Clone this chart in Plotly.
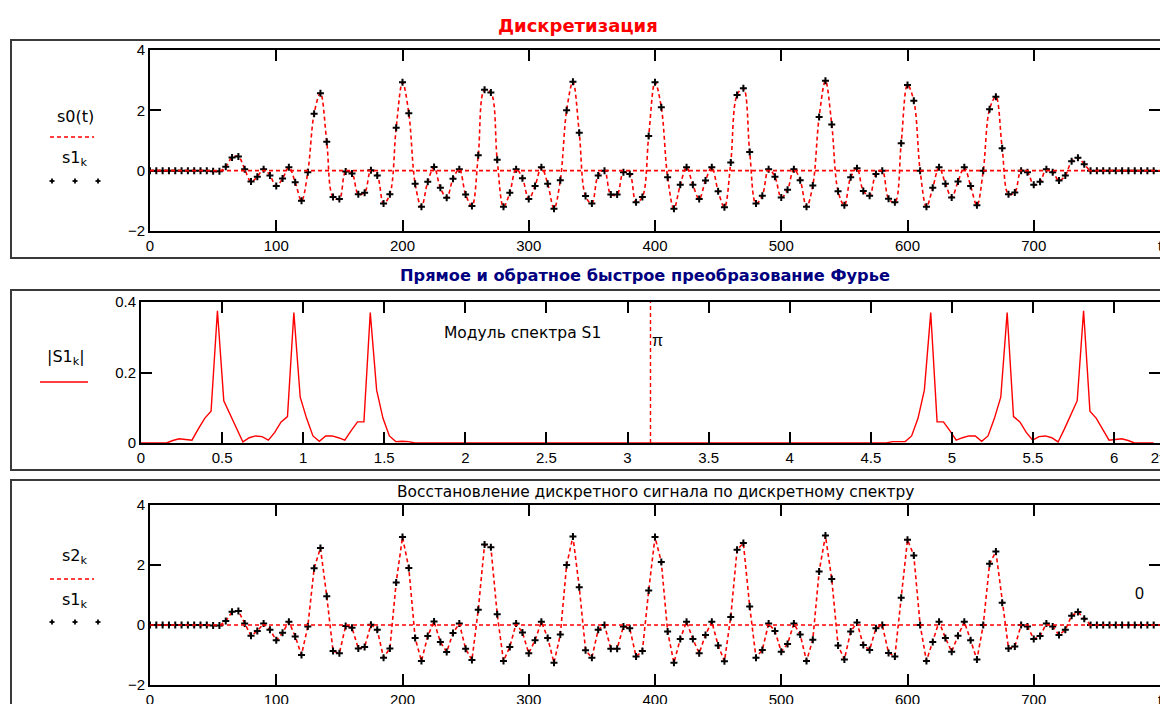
import math
import plotly.graph_objects as go

# ---------------- data ----------------
# discrete samples s1_k (sample step 5 in t, 160 samples)
s1_k = [
    0, 0, 0, 0, 0, 0, 0, 0, 0, 0,
    -0.02, -0.02, 0.13, 0.44, 0.47, 0.05, -0.36, -0.20, 0.05, -0.16,
    -0.51, -0.26, 0.11, -0.38, -1.00, -0.05, 1.89, 2.57, 0.96, -0.87,
    -0.94, -0.03, -0.09, -0.78, -0.73, 0.01, -0.16, -1.09, -0.78, 1.42,
    2.93, 1.90, -0.43, -1.20, -0.37, 0.12, -0.57, -0.90, -0.27, 0.05,
    -0.79, -1.17, 0.51, 2.68, 2.59, 0.36, -1.20, -0.73, 0.05, -0.25,
    -0.94, -0.51, 0.11, -0.43, -1.26, -0.32, 2.00, 2.95, 1.26, -0.84,
    -1.09, -0.16, 0.00, -0.79, -0.79, -0.05, -0.11, -1.05, -0.87, 1.15,
    2.93, 2.10, -0.22, -1.26, -0.47, 0.11, -0.47, -0.94, -0.33, 0.11,
    -0.68, -1.21, 0.27, 2.51, 2.73, 0.62, -1.09, -0.83, 0.05, -0.20,
    -0.89, -0.63, 0.05, -0.32, -1.20, -0.49, 1.78, 2.98, 1.53, -0.68,
    -1.15, -0.22, 0.08, -0.67, -0.83, -0.11, 0.00, -0.93, -1.05, 0.91,
    2.84, 2.32, 0.00, -1.20, -0.57, 0.11, -0.43, -0.89, -0.36, 0.11,
    -0.51, -1.15, 0.00, 2.04, 2.45, 0.74, -0.78, -0.72, 0.00, -0.05,
    -0.47, -0.37, 0.05, -0.05, -0.33, -0.16, 0.31, 0.43, 0.21, 0.00,
    0, 0, 0, 0, 0, 0, 0, 0, 0, 0,
]

# spectrum modulus |S1_k|, k = 0..159
S1_abs = [
    0, 0, 0, 0, 0, 0.007, 0.012, 0.010, 0.008, 0.040,
    0.070, 0.090, 0.375, 0.120, 0.080, 0.040, 0.003, 0.015, 0.020, 0.018,
    0.008, 0.030, 0.060, 0.075, 0.370, 0.130, 0.070, 0.020, 0.005, 0.020,
    0.020, 0.015, 0.008, 0.035, 0.060, 0.060, 0.370, 0.150, 0.070, 0.020,
    0.004, 0.005, 0.004,
    0, 0, 0, 0, 0, 0, 0, 0, 0, 0, 0, 0, 0, 0, 0,
    0, 0, 0, 0, 0, 0, 0, 0, 0, 0, 0, 0, 0, 0, 0,
    0, 0, 0, 0, 0, 0, 0, 0, 0, 0, 0, 0, 0, 0, 0,
    0, 0, 0, 0, 0, 0, 0, 0, 0, 0, 0, 0, 0, 0, 0,
    0, 0, 0, 0, 0, 0, 0, 0, 0, 0, 0, 0, 0, 0, 0,
    0.004, 0.005,
    0.004, 0.020, 0.070, 0.150, 0.370, 0.060, 0.060, 0.035, 0.008, 0.015,
    0.020, 0.020, 0.005, 0.020, 0.070, 0.130, 0.370, 0.075, 0.060, 0.030,
    0.008, 0.018, 0.020, 0.015, 0.003, 0.040, 0.080, 0.120, 0.375, 0.090,
    0.070, 0.040, 0.008, 0.010, 0.012, 0.007, 0, 0, 0, 0,
]

# reconstruction s2_k = inverse FFT of S1 -> same samples
s2_k = list(s1_k)

t_step = 5
t_k = [t_step * k for k in range(len(s1_k))]
N = len(S1_abs)
w_k = [2 * math.pi * k / N for k in range(N)]

t_ticks = [0, 100, 200, 300, 400, 500, 600, 700, 800]
t_ticktext = ["0", "100", "200", "300", "400", "500", "600", "700", "t"]
y_ticks = [-2, 0, 2, 4]
w_ticks = [0, 0.5, 1, 1.5, 2, 2.5, 3, 3.5, 4, 4.5, 5, 5.5, 6, 2 * math.pi]
w_ticktext = ["0", "0.5", "1", "1.5", "2", "2.5", "3", "3.5", "4", "4.5",
              "5", "5.5", "6", "2π"]
s_ticks = [0, 0.2, 0.4]
s_ticktext = ["0", "0.2", "0.4"]

# ---------------- layout helpers ----------------
# the page body has an 8px margin, so the figure is placed at (8, 8)
OFF = 8
W, H = 1168, 704
def px(x):
    return (x - OFF) / W
def py(y):
    return 1 - (y - OFF) / H

FONT = "Liberation Sans, Arial, sans-serif"
WIDE = "DejaVu Sans, Verdana, sans-serif"
RED = "#ff0000"
DASH = "4px,3px"

fig = go.Figure()

marker_style = dict(symbol="cross-thin", size=5, color="black",
                    line=dict(color="black", width=2))

# top panel
fig.add_trace(go.Scatter(x=t_k, y=s1_k, mode="lines", line_shape="spline",
                         line=dict(color=RED, width=1.6, dash=DASH, smoothing=1.0),
                         xaxis="x", yaxis="y", hoverinfo="skip"))
fig.add_trace(go.Scatter(x=t_k, y=s1_k, mode="markers", marker=marker_style,
                         xaxis="x", yaxis="y"))
# middle panel
fig.add_trace(go.Scatter(x=w_k, y=S1_abs, mode="lines",
                         line=dict(color=RED, width=1.4),
                         xaxis="x2", yaxis="y2"))
# bottom panel
fig.add_trace(go.Scatter(x=t_k, y=s2_k, mode="lines",
                         line=dict(color=RED, width=1.6, dash=DASH),
                         xaxis="x3", yaxis="y3"))
fig.add_trace(go.Scatter(x=t_k, y=s1_k, mode="markers", marker=marker_style,
                         xaxis="x3", yaxis="y3"))

axis_common = dict(showgrid=False, zeroline=False, showline=True, linecolor="black",
                   linewidth=2, mirror="ticks", ticks="inside", ticklen=11,
                   tickwidth=2, tickcolor="black", automargin=False,
                   ticklabeloverflow="allow",
                   tickfont=dict(family=FONT, size=15, color="black"))

fig.update_layout(
    width=W, height=H,
    margin=dict(l=0, r=0, t=0, b=0, pad=0, autoexpand=False),
    paper_bgcolor="white", plot_bgcolor="white", showlegend=False,
    xaxis=dict(domain=[px(150), px(1160)], range=[0, 800], anchor="y",
               tickvals=t_ticks, ticktext=t_ticktext, **axis_common),
    yaxis=dict(domain=[py(231), py(50)], range=[-2, 4], anchor="x",
               tickvals=y_ticks, **axis_common),
    xaxis2=dict(domain=[px(141), px(1160)], range=[0, 2 * math.pi], anchor="y2",
                tickvals=w_ticks, ticktext=w_ticktext, **axis_common),
    yaxis2=dict(domain=[py(443), py(302)], range=[0, 0.4], anchor="x2",
                tickvals=s_ticks, ticktext=s_ticktext, **axis_common),
    xaxis3=dict(domain=[px(150), px(1160)], range=[0, 800], anchor="y3",
                tickvals=t_ticks, ticktext=t_ticktext, **axis_common),
    yaxis3=dict(domain=[py(685), py(505)], range=[-2, 4], anchor="x3",
                tickvals=y_ticks, **axis_common),
)

shapes = []
# region frames
for (y0, y1) in [(40, 258), (290, 470), (480, 720)]:
    shapes.append(dict(type="rect", xref="paper", yref="paper",
                       x0=px(11), x1=px(1185), y0=py(y1), y1=py(y0),
                       line=dict(color="#3a3a3a", width=2), layer="below"))
# zero marker lines
shapes.append(dict(type="line", xref="x domain", yref="y", x0=0, x1=1, y0=0, y1=0,
                   line=dict(color=RED, width=1.6, dash=DASH)))
shapes.append(dict(type="line", xref="x3 domain", yref="y3", x0=0, x1=1, y0=0, y1=0,
                   line=dict(color=RED, width=1.6, dash=DASH)))
# pi marker
shapes.append(dict(type="line", xref="x2", yref="y2 domain", x0=math.pi, x1=math.pi,
                   y0=0, y1=1, line=dict(color=RED, width=1.4, dash="4px,3px")))
# legend line samples
shapes.append(dict(type="line", xref="paper", yref="paper", x0=px(50), x1=px(94),
                   y0=py(137), y1=py(137), line=dict(color=RED, width=1.6, dash=DASH)))
shapes.append(dict(type="line", xref="paper", yref="paper", x0=px(40), x1=px(88),
                   y0=py(382), y1=py(382), line=dict(color=RED, width=1.6)))
shapes.append(dict(type="line", xref="paper", yref="paper", x0=px(50), x1=px(94),
                   y0=py(579), y1=py(579), line=dict(color=RED, width=1.6, dash=DASH)))
# legend point glyphs (small crosses)
for yy in (181, 622):
    for xx in (52, 75, 98):
        shapes.append(dict(type="line", xref="paper", yref="paper",
                           x0=px(xx - 2.5), x1=px(xx + 2.5), y0=py(yy), y1=py(yy),
                           line=dict(color="black", width=1.8)))
        shapes.append(dict(type="line", xref="paper", yref="paper",
                           x0=px(xx), x1=px(xx), y0=py(yy - 2.5), y1=py(yy + 2.5),
                           line=dict(color="black", width=1.8)))
fig.update_layout(shapes=shapes)

ann = []
def text(x, y, s, size=15, color="black", bold=False, family=FONT, xanchor="center"):
    ann.append(dict(x=px(x), y=py(y), xref="paper", yref="paper",
                    text=(f"<b>{s}</b>" if bold else s),
                    showarrow=False, xanchor=xanchor, yanchor="middle",
                    font=dict(family=family, size=size, color=color)))

text(578, 25, "Дискретизация", size=18, color=RED, bold=True, family=WIDE)
text(645, 275, "Прямое и обратное быстрое преобразование Фурье", size=16.2,
     color="#000080", bold=True, family=WIDE)
text(655, 492, "Восстановление дискретного сигнала по дискретному спектру", size=15.4,
     family=WIDE)
text(522, 333, "Модуль спектра S1", size=15.5, family=WIDE)
text(657, 340, "π", size=16)
text(1139, 593, "0", size=16)

# legends
text(75, 117, "s0(t)", size=16, family=WIDE)
text(75, 158, "s1<sub>k</sub>", size=16, family=WIDE)
text(66, 358, "|S1<sub>k</sub>|", size=16, family=WIDE)
text(75, 556, "s2<sub>k</sub>", size=16, family=WIDE)
text(75, 600, "s1<sub>k</sub>", size=16, family=WIDE)

fig.update_layout(annotations=ann)
fig.write_html("out.html")
